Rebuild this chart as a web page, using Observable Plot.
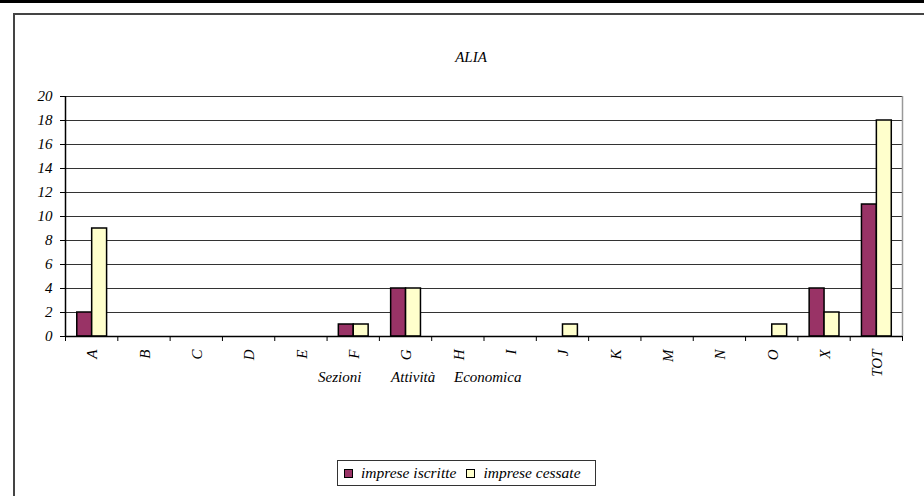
<!DOCTYPE html>
<html><head><meta charset="utf-8">
<script src="https://cdn.jsdelivr.net/npm/d3@7"></script>
<script src="https://cdn.jsdelivr.net/npm/@observablehq/plot@0.6"></script>
<style>
body{margin:0;background:#fff;}
*{font-family:'Liberation Serif',serif;}
#wrap{position:relative;width:924px;height:496px;overflow:hidden;font-style:italic;color:#000;background:#fff;}
.topline{position:absolute;left:0;top:0;width:924px;height:3px;background:#000;}
.frame{position:absolute;left:13px;top:13px;width:940px;height:520px;border-left:2px solid #444;border-top:2px solid #444;}
#chart{position:absolute;left:0;top:0;}
#chart svg, #chart svg text{font-family:'Liberation Serif',serif !important;font-style:italic;}
#chart svg text{font-size:15px !important;}
.title{position:absolute;left:0;width:942px;top:49px;text-align:center;font-size:15px;font-style:italic;}
.xtitle{position:absolute;left:318px;top:369px;font-size:15px;white-space:pre;font-style:italic;}
.legend{position:absolute;left:337px;top:460px;width:257px;height:24px;border:1px solid #333;display:flex;align-items:center;font-size:15.5px;background:#fff;font-style:italic;}
.sw{display:inline-block;width:7px;height:7px;border:1.5px solid #000;margin-left:6px;margin-right:8px;}
</style></head><body>
<div id="wrap">
  <div class="topline"></div>
  <div class="frame"></div>
  <div id="chart"></div>
  <div class="title">ALIA</div>
  <div class="xtitle">Sezioni        Attività     Economica</div>
  <div class="legend" id="legend"></div>
</div>
<script>
const categories = ["A","B","C","D","E","F","G","H","I","J","K","M","N","O","X","TOT"];
const iscritte = [2,0,0,0,0,1,4,0,0,0,0,0,0,0,4,11];
const cessate  = [9,0,0,0,0,1,4,0,0,1,0,0,0,1,2,18];
const seriesNames = ["imprese iscritte","imprese cessate"];
const seriesColors = ["#993366","#FFFFCC"];
const yTicks = [0,2,4,6,8,10,12,14,16,18,20];

// layout of the two bars inside each category slot (fractions of slot)
const slots = [[0.225,0.51],[0.51,0.795]];

const rows = [];
[iscritte, cessate].forEach((vals, s) => {
  vals.forEach((v, i) => {
    if (v > 0) rows.push({i, cat: categories[i], series: seriesNames[s], s, value: v});
  });
});

const boundaries = d3.range(categories.length + 1);

const chart = Plot.plot({
  width: 924,
  height: 496,
  marginLeft: 65,
  marginRight: 22,
  marginTop: 96,
  marginBottom: 160,
  style: {background: "transparent", fontFamily: "Liberation Serif, serif", fontStyle: "italic", fontSize: "15px", color: "black"},
  x: {type: "linear", domain: [0, categories.length], ticks: boundaries, tickFormat: () => "", tickSize: 5, label: null},
  y: {domain: [0, 20], ticks: yTicks, tickSize: 5, tickPadding: 8, label: null},
  color: {domain: seriesNames, range: seriesColors},
  marks: [
    Plot.ruleY(yTicks.filter(d => d > 0), {stroke: "#333", strokeWidth: 1}),
    Plot.ruleX([categories.length], {stroke: "#999", strokeWidth: 1.5}),
    Plot.rect(rows, {
      x1: d => d.i + slots[d.s][0],
      x2: d => d.i + slots[d.s][1],
      y1: 0,
      y2: "value",
      fill: "series",
      stroke: "black",
      strokeWidth: 1.5
    }),
    Plot.ruleX([0], {stroke: "black", strokeWidth: 1.5}),
    Plot.ruleY([0], {stroke: "black", strokeWidth: 1.5}),
    Plot.text(categories, {
      x: (d, i) => i + 0.5,
      y: categories.map(() => 0),
      text: d => d,
      rotate: -90,
      textAnchor: "end",
      lineAnchor: "middle",
      dy: 13,
      dx: 1,
      fontSize: 15
    })
  ]
});
document.getElementById("chart").appendChild(chart);

const legend = document.getElementById("legend");
seriesNames.forEach((name, k) => {
  const sw = document.createElement("span");
  sw.className = "sw";
  sw.style.background = seriesColors[k];
  if (k > 0) sw.style.marginLeft = "10px";
  legend.appendChild(sw);
  const t = document.createElement("span");
  t.textContent = name;
  legend.appendChild(t);
});
</script>
</body></html>
